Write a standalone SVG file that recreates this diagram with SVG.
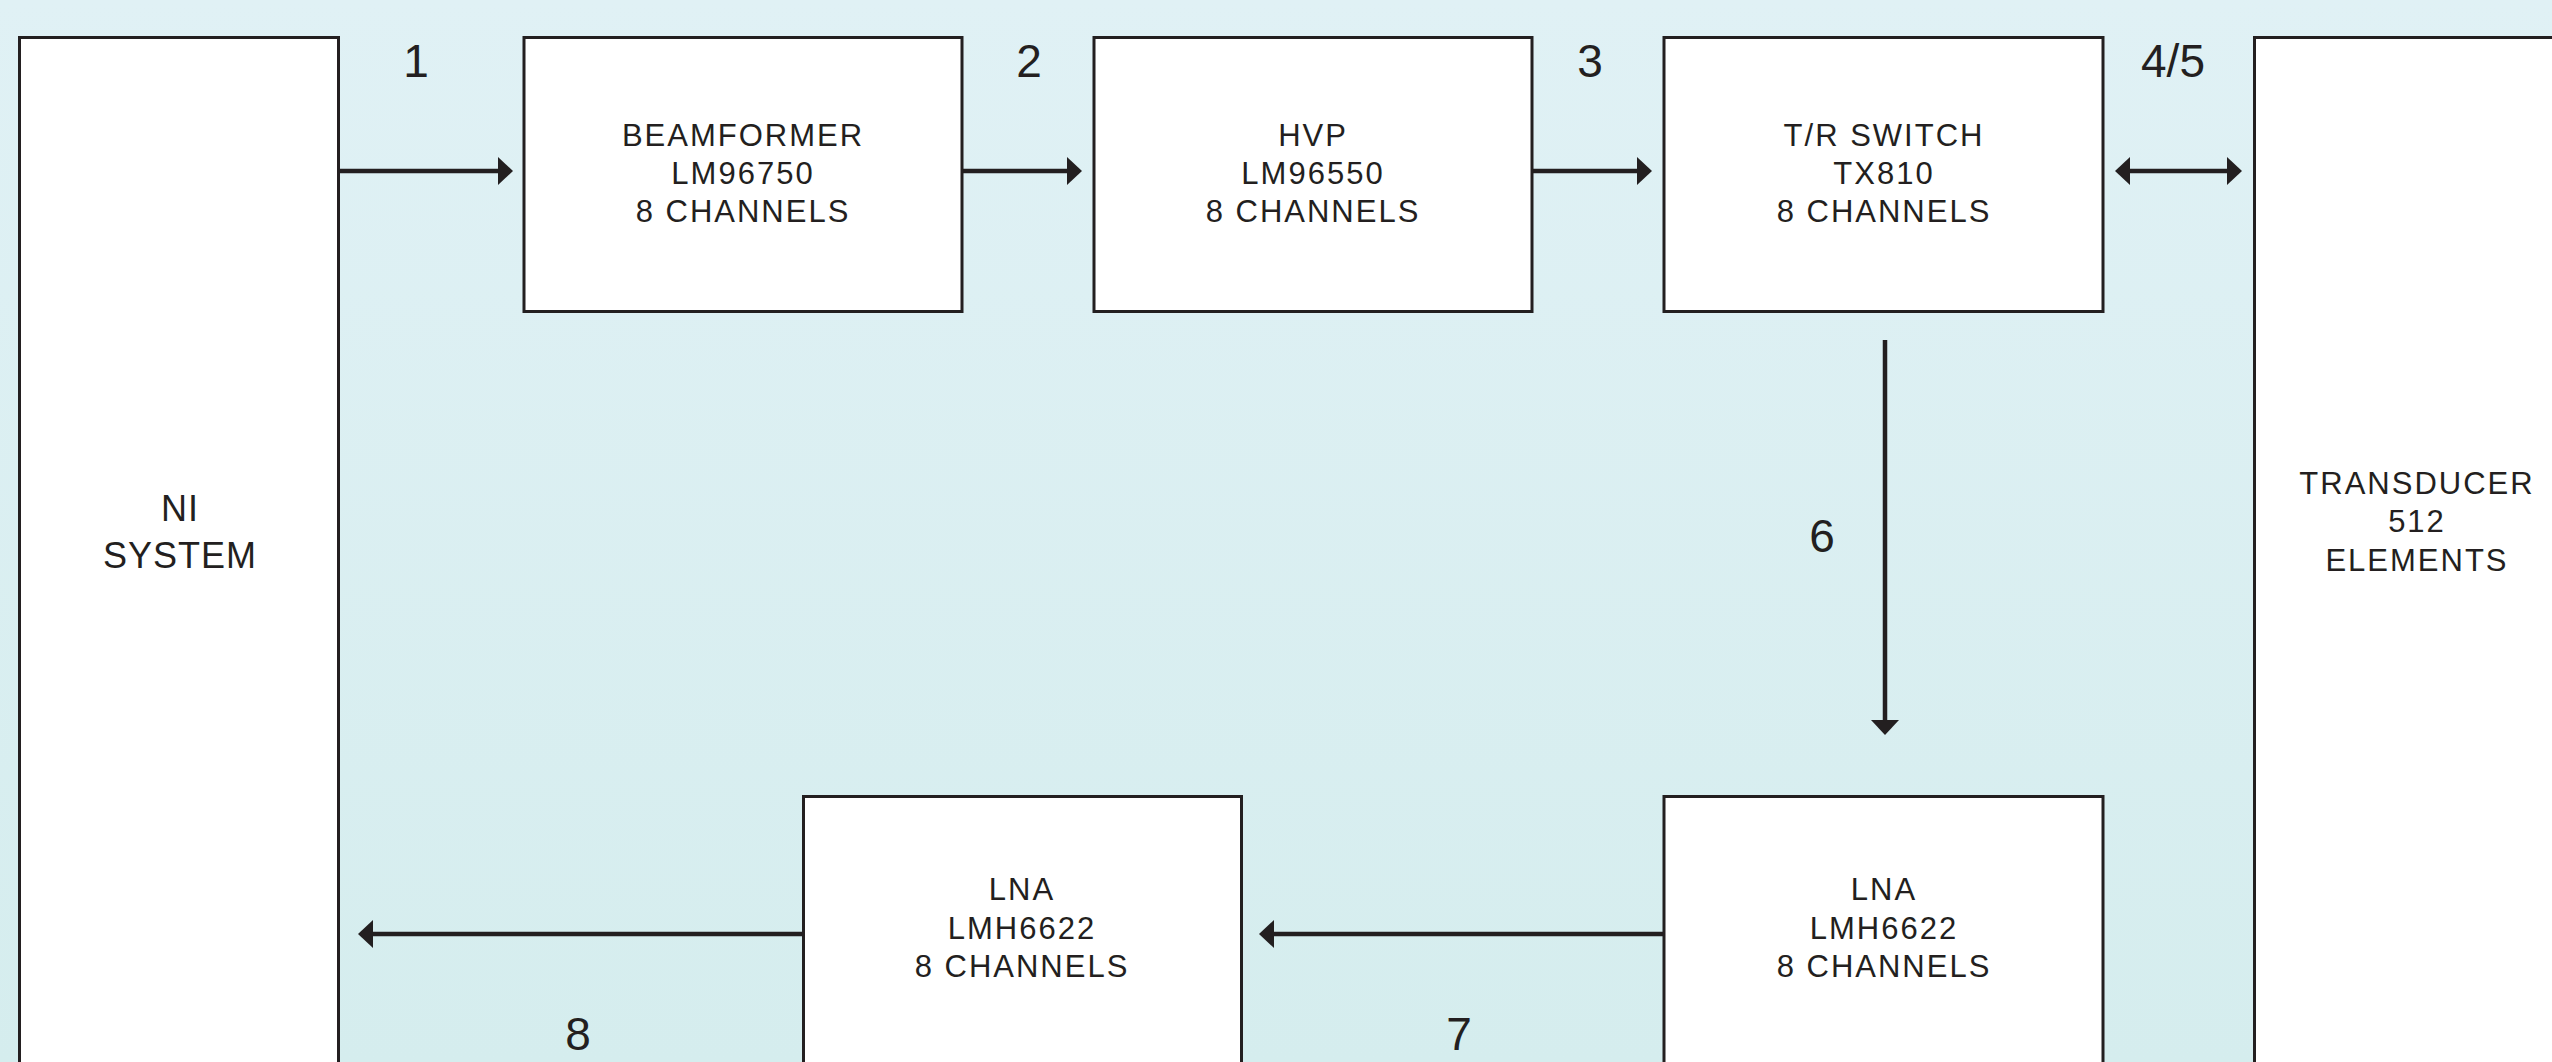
<svg xmlns="http://www.w3.org/2000/svg" width="2552" height="1062" viewBox="0 0 2552 1062">
<style>
.box{fill:#ffffff;stroke:#231f20;stroke-width:3}
.t{font-family:"Liberation Sans",Arial,sans-serif;font-size:31px;fill:#231f20;text-anchor:middle;letter-spacing:2px}
.big{font-family:"Liberation Sans",Arial,sans-serif;font-size:36px;fill:#231f20;text-anchor:middle;letter-spacing:1px}
.num{font-family:"Liberation Sans",Arial,sans-serif;font-size:46px;fill:#231f20;text-anchor:middle}
.ln{stroke:#231f20;stroke-width:4.5;fill:none}
</style>
<defs>
<linearGradient id="bg" x1="0" y1="0" x2="0" y2="1">
<stop offset="0" stop-color="#e0f1f5"/>
<stop offset="1" stop-color="#d5edee"/>
</linearGradient>
<marker id="ah" markerUnits="userSpaceOnUse" markerWidth="16" markerHeight="28" refX="5" refY="14" orient="auto-start-reverse">
<path d="M0,0 L15,14 L0,28 z" fill="#231f20"/>
</marker>
</defs>
<rect x="0" y="0" width="2552" height="1062" fill="url(#bg)"/>
<g id="connectors">
<line class="ln" x1="339" y1="171" x2="503" y2="171" marker-end="url(#ah)"/>
<line class="ln" x1="962" y1="171" x2="1072" y2="171" marker-end="url(#ah)"/>
<line class="ln" x1="1532" y1="171" x2="1642" y2="171" marker-end="url(#ah)"/>
<line class="ln" x1="2125" y1="171" x2="2232" y2="171" marker-start="url(#ah)" marker-end="url(#ah)"/>
<line class="ln" x1="1885" y1="340" x2="1885" y2="725" marker-end="url(#ah)"/>
<line class="ln" x1="1663" y1="934" x2="1269" y2="934" marker-end="url(#ah)"/>
<line class="ln" x1="803" y1="934" x2="368" y2="934" marker-end="url(#ah)"/>
</g>
<g id="labels">
<text class="num" x="416" y="77">1</text>
<text class="num" x="1029" y="77">2</text>
<text class="num" x="1590" y="77">3</text>
<text class="num" x="2173" y="77">4/5</text>
<text class="num" x="1822" y="552">6</text>
<text class="num" x="1459" y="1050">7</text>
<text class="num" x="578" y="1050">8</text>
</g>
<g id="ni-system">
<rect class="box" x="19.5" y="37.5" width="319" height="1040"/>
<text class="big" x="180" y="521">NI</text>
<text class="big" x="180" y="568">SYSTEM</text>
</g>
<g id="beamformer">
<rect class="box" x="524" y="37.5" width="438" height="274"/>
<text class="t" x="743" y="146">BEAMFORMER</text>
<text class="t" x="743" y="184">LM96750</text>
<text class="t" x="743" y="222">8 CHANNELS</text>
</g>
<g id="hvp">
<rect class="box" x="1094" y="37.5" width="438" height="274"/>
<text class="t" x="1313" y="146">HVP</text>
<text class="t" x="1313" y="184">LM96550</text>
<text class="t" x="1313" y="222">8 CHANNELS</text>
</g>
<g id="tr-switch">
<rect class="box" x="1664" y="37.5" width="439" height="274"/>
<text class="t" x="1884" y="146">T/R SWITCH</text>
<text class="t" x="1884" y="184">TX810</text>
<text class="t" x="1884" y="222">8 CHANNELS</text>
</g>
<g id="transducer">
<rect class="box" x="2254.5" y="37.5" width="330" height="1040"/>
<text class="t" x="2417" y="494">TRANSDUCER</text>
<text class="t" x="2417" y="532">512</text>
<text class="t" x="2417" y="571">ELEMENTS</text>
</g>
<g id="lna-1">
<rect class="box" x="803.5" y="796.5" width="438" height="300"/>
<text class="t" x="1022" y="900">LNA</text>
<text class="t" x="1022" y="939">LMH6622</text>
<text class="t" x="1022" y="977">8 CHANNELS</text>
</g>
<g id="lna-2">
<rect class="box" x="1664" y="796.5" width="439" height="300"/>
<text class="t" x="1884" y="900">LNA</text>
<text class="t" x="1884" y="939">LMH6622</text>
<text class="t" x="1884" y="977">8 CHANNELS</text>
</g>
</svg>
